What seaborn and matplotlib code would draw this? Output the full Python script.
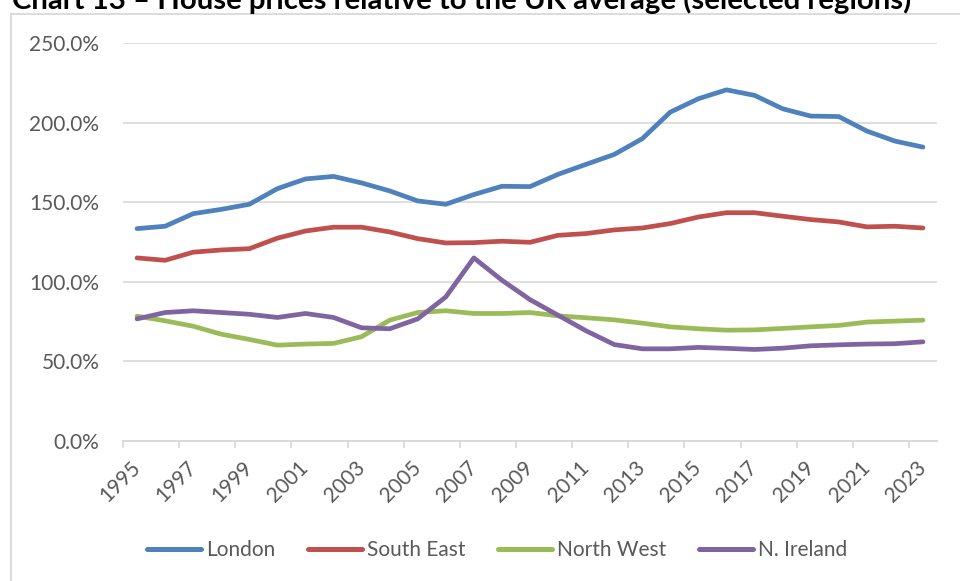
import matplotlib
matplotlib.use("Agg")
import matplotlib.pyplot as plt
import seaborn as sns
import pandas as pd
from matplotlib.lines import Line2D

years = list(range(1995, 2024))
london = [133.4, 134.9, 142.8, 145.5, 148.7, 158.5, 164.6, 166.2, 162.1, 157.1,
          150.8, 148.7, 154.8, 160.0, 159.8, 167.5, 173.8, 180.0, 189.9, 206.6,
          215.0, 220.6, 217.1, 208.7, 204.1, 203.8, 194.7, 188.4, 184.6]
south_east = [115.0, 113.5, 118.6, 120.0, 120.8, 127.4, 131.9, 134.3, 134.3, 131.3,
              127.1, 124.4, 124.6, 125.5, 124.8, 129.2, 130.3, 132.6, 133.8, 136.6,
              140.7, 143.4, 143.4, 141.2, 139.1, 137.6, 134.5, 134.9, 133.8]
north_west = [78.4, 75.5, 72.1, 67.1, 63.8, 60.2, 60.9, 61.3, 65.5, 75.9,
              80.7, 81.8, 80.1, 80.1, 80.7, 78.6, 77.4, 76.1, 74.0, 71.7,
              70.5, 69.6, 69.8, 70.7, 71.7, 72.6, 74.7, 75.3, 75.9]
n_ireland = [76.7, 80.7, 81.8, 80.7, 79.6, 77.6, 80.1, 77.6, 71.1, 70.5,
             76.7, 90.5, 115.0, 101.0, 88.8, 79.0, 69.2, 60.6, 57.9, 57.9,
             58.8, 58.2, 57.5, 58.3, 59.8, 60.4, 60.9, 61.1, 62.3]
series_names = ["London", "South East", "North West", "N. Ireland"]
colors = ["#4F81BD", "#C0504D", "#9BBB59", "#8064A2"]
y_ticks = [0, 50, 100, 150, 200, 250]
title_text = "Chart 13 \u2013 House prices relative to the UK average (selected regions)"

rows = []
for name, vals in zip(series_names, [london, south_east, north_west, n_ireland]):
    for i, (yr, v) in enumerate(zip(years, vals)):
        rows.append({"idx": i, "year": yr, "value": v, "region": name})
df = pd.DataFrame(rows)

sns.set_theme(style="white")
plt.rcParams["font.family"] = ["Lato", "DejaVu Sans"]

W, H = 960, 581
fig = plt.figure(figsize=(W / 100, H / 100), dpi=100)
ax = fig.add_axes([123 / W, 1 - 441 / H, (937 - 123) / W, (441 - 43) / H])

sns.lineplot(data=df, x="idx", y="value", hue="region", hue_order=series_names,
             palette=colors, linewidth=3.4, sort=False, ax=ax, legend=True,
             solid_capstyle="round", solid_joinstyle="round")

n = len(years)
ax.set_xlim(-0.5, n - 0.5)
ax.set_ylim(0, 250)
grid_c = "#D9D9D9"
label_c = "#595959"
fs = 15

ax.set_yticks(y_ticks)
ax.set_yticklabels([f"{t:.1f}%" for t in y_ticks])
for t in y_ticks[1:]:
    ax.axhline(t, color=grid_c, lw=1.2, zorder=0)
ax.tick_params(axis="y", length=0, pad=17, labelsize=fs, labelcolor=label_c)

major = list(range(0, n, 2))
ax.set_xticks(major)
ax.set_xticklabels([str(years[i]) for i in major], rotation=45, ha="right",
                   va="center", rotation_mode="anchor")
ax.set_xticks([i - 0.5 for i in range(0, n, 2)], minor=True)
ax.tick_params(axis="x", which="major", length=0, pad=17, labelsize=fs, labelcolor=label_c)
ax.tick_params(axis="x", which="minor", length=5, width=1.2, color=grid_c, bottom=True, direction="out")
ax.set_xlabel("")
ax.set_ylabel("")

for s in ["top", "right", "left"]:
    ax.spines[s].set_visible(False)
ax.spines["bottom"].set_color(grid_c)
ax.spines["bottom"].set_linewidth(1.4)

handles, labels = ax.get_legend_handles_labels()
if ax.get_legend() is not None:
    ax.get_legend().remove()
leg = fig.legend(handles, labels, loc="center", bbox_to_anchor=(497 / W, 1 - 550 / H),
                 ncol=4, frameon=False, fontsize=fs, handlelength=2.6,
                 handletextpad=0.25, columnspacing=1.55)
for txt in leg.get_texts():
    txt.set_color(label_c)
for lh in leg.get_lines():
    lh.set_linewidth(3.6)

# chart area border (left and top)
fig.add_artist(Line2D([11 / W, 11 / W], [0, 1 - 14 / H], color=grid_c, lw=1.3))
fig.add_artist(Line2D([11 / W, 1], [1 - 14 / H, 1 - 14 / H], color=grid_c, lw=1.3))

title = fig.text(12 / W, 1 - 9 / H, title_text, fontweight="bold", fontsize=18,
                 ha="left", va="baseline", color="black")
fig.canvas.draw()
w = title.get_window_extent().width
title.set_fontsize(18 * 901 / w)

fig.savefig("out.png", dpi=100)
